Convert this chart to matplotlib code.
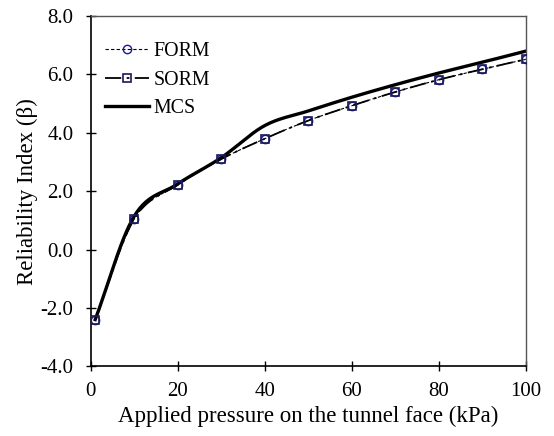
import matplotlib
matplotlib.use("Agg")
import matplotlib.pyplot as plt
import numpy as np

plt.rcParams['font.family'] = ['Liberation Serif', 'DejaVu Serif']

# data
pressure = [1, 10, 20, 30, 40, 50, 60, 70, 80, 90, 100]
beta_form = [-2.40, 1.05, 2.22, 3.10, 3.80, 4.42, 4.93, 5.40, 5.82, 6.18, 6.52]
beta_sorm = [-2.40, 1.05, 2.22, 3.10, 3.80, 4.42, 4.93, 5.40, 5.82, 6.18, 6.52]
beta_mcs = [-2.40, 1.15, 2.25, 3.15, 4.25, 4.75, 5.22, 5.65, 6.05, 6.42, 6.80]


def smooth(x, y, n=30):
    # excel-like smoothed line (catmull-rom through the points)
    x = np.asarray(x, float)
    y = np.asarray(y, float)
    px = np.concatenate([[2 * x[0] - x[1]], x, [2 * x[-1] - x[-2]]])
    py = np.concatenate([[2 * y[0] - y[1]], y, [2 * y[-1] - y[-2]]])
    t = np.linspace(0, 1, n, endpoint=False)
    xs, ys = [], []
    for i in range(1, len(px) - 2):
        for p, out in ((px, xs), (py, ys)):
            p0, p1, p2, p3 = p[i - 1], p[i], p[i + 1], p[i + 2]
            out.extend(0.5 * (2 * p1 + (-p0 + p2) * t + (2 * p0 - 5 * p1 + 4 * p2 - p3) * t ** 2
                              + (-p0 + 3 * p1 - 3 * p2 + p3) * t ** 3))
    xs.append(x[-1])
    ys.append(y[-1])
    return np.array(xs), np.array(ys), list(range(0, n * (len(x) - 1) + 1, n))


fig = plt.figure(figsize=(5.54, 4.36), dpi=100)
ax = fig.add_axes([0.164, 0.16, 0.785, 0.803])

xs, ys, idx = smooth(pressure, beta_mcs)
ax.plot(xs, ys, '-', color='black', lw=2.4, label='MCS', zorder=2)
xs, ys, idx = smooth(pressure, beta_form)
ax.plot(xs, ys, '--', color='black', lw=0.8, dashes=(3, 2), markevery=idx,
        marker='o', ms=6, mfc='none', mec='#1a1a9a', mew=1.0, label='FORM', zorder=3)
xs, ys, idx = smooth(pressure, beta_sorm)
ax.plot(xs, ys, '-', color='black', lw=1.3, dashes=(9, 3, 1.5, 3), markevery=idx,
        marker='s', ms=6, mfc='none', mec='#1a1a5a', mew=1.2, label='SORM', zorder=3)

ax.set_xlim(0, 100)
ax.set_ylim(-4, 8)
ax.set_xticks(np.arange(0, 101, 20))
ax.set_yticks(np.arange(-4, 8.1, 2))
ax.set_yticklabels(['%.1f' % v for v in np.arange(-4, 8.1, 2)])
ax.tick_params(direction='inout', length=7, width=1, labelsize=15, colors='black')
ax.tick_params(axis='x', pad=8)
ax.tick_params(axis='y', pad=9)

for s in ['top', 'right']:
    ax.spines[s].set_color('#555555')
    ax.spines[s].set_linewidth(1.0)
for s in ['left', 'bottom']:
    ax.spines[s].set_linewidth(1.2)

ax.set_xlabel('Applied pressure on the tunnel face (kPa)', fontsize=16.5, labelpad=3)
ax.set_ylabel('Reliability Index (\u03b2)', fontsize=16.5, labelpad=2)

h, l = ax.get_legend_handles_labels()
order = [1, 2, 0]
ax.legend([h[i] for i in order], [l[i] for i in order], loc='upper left',
          bbox_to_anchor=(0.014, 0.95), borderaxespad=0, borderpad=0.4,
          frameon=False, fontsize=14.3, handlelength=2.2, handletextpad=0.25,
          labelspacing=0.5)

fig.savefig('out.png', dpi=100)
